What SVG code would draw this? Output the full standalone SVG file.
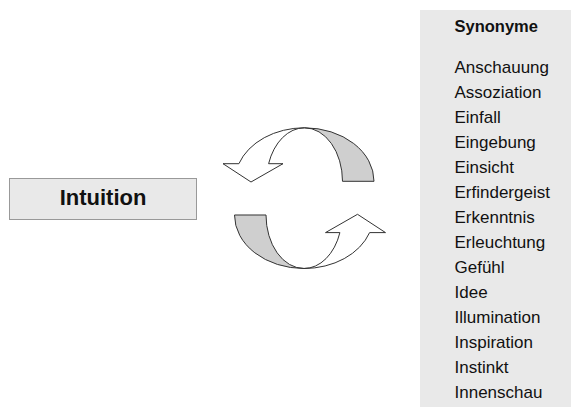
<svg xmlns="http://www.w3.org/2000/svg" xmlns:xlink="http://www.w3.org/1999/xlink" width="571" height="407" viewBox="0 0 571 407">
  <style>
    .box { fill: #e9e9e9; stroke: #999999; stroke-width: 1; }
    .panel { fill: #e9e9e9; }
    .title { font-family: "Liberation Sans", Arial, sans-serif; font-weight: bold; fill: #111111; }
    .item { font-family: "Liberation Sans", Arial, sans-serif; font-size: 17px; fill: #111111; }
    .front { fill: #ffffff; stroke: #333333; stroke-width: 1; stroke-linejoin: miter; }
    .back { fill: #cfcfcf; stroke: #333333; stroke-width: 1; }
  </style>
  <defs>
    <!-- one half of the cycle: ribbon arc with its back side showing on the right -->
    <g id="halfArrow">
      <path class="back" d="M 374,181.3 A 69.5 53.5 0 0 0 304.5,127.8 A 38 53.5 0 0 1 342.5,181.3 Z"/>
      <path class="front" d="M 304.5,127.8 A 69.5 53.5 0 0 0 238.9,163.7 L 223,163.7 L 251,182 L 283,163.7 L 268.6,163.7 A 38 53.5 0 0 1 304.5,127.8 Z"/>
    </g>
  </defs>

  <g id="intuition">
    <rect class="box" x="9.5" y="178.5" width="187" height="41"/>
    <text class="title" x="103" y="205" font-size="22" text-anchor="middle">Intuition</text>
  </g>

  <g id="cycle">
    <use xlink:href="#halfArrow"/>
    <use xlink:href="#halfArrow" transform="rotate(180 304.25 198.15)"/>
  </g>

  <g id="synonyme">
    <rect class="panel" x="420" y="10" width="151" height="397"/>
    <text class="title" x="454.5" y="32" font-size="16.5">Synonyme</text>
    <text class="item" x="454.5" y="73">Anschauung</text>
    <text class="item" x="454.5" y="98">Assoziation</text>
    <text class="item" x="454.5" y="123">Einfall</text>
    <text class="item" x="454.5" y="148">Eingebung</text>
    <text class="item" x="454.5" y="173">Einsicht</text>
    <text class="item" x="454.5" y="198">Erfindergeist</text>
    <text class="item" x="454.5" y="223">Erkenntnis</text>
    <text class="item" x="454.5" y="248">Erleuchtung</text>
    <text class="item" x="454.5" y="273">Gefühl</text>
    <text class="item" x="454.5" y="298">Idee</text>
    <text class="item" x="454.5" y="323">Illumination</text>
    <text class="item" x="454.5" y="348">Inspiration</text>
    <text class="item" x="454.5" y="373">Instinkt</text>
    <text class="item" x="454.5" y="398">Innenschau</text>
  </g>
</svg>
